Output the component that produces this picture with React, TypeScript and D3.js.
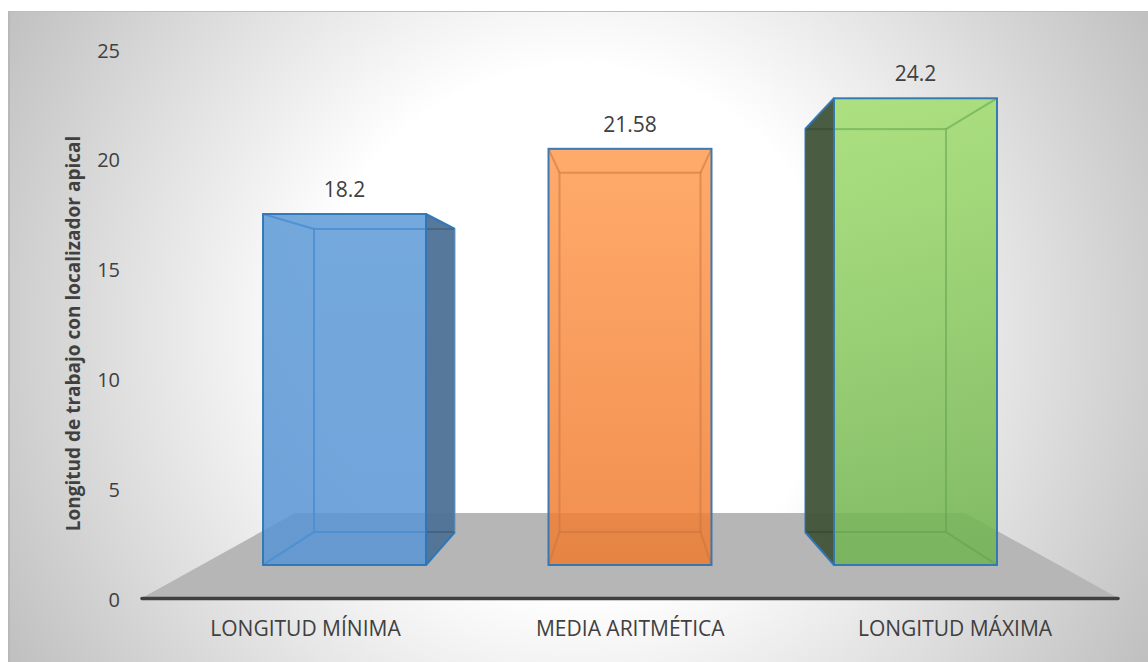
import React from "react";
import * as d3 from "d3";

const categories = ["LONGITUD MÍNIMA", "MEDIA ARITMÉTICA", "LONGITUD MÁXIMA"];
const values = [18.2, 21.58, 24.2];
const valueLabels = ["18.2", "21.58", "24.2"];
const yTicks = [0, 5, 10, 15, 20, 25];
const yTitle = "Longitud de trabajo con localizador apical";
const topColors = ["#5c9ad7", "#ff9c51", "#a0dd6d"];
const bottomColors = ["#5894d4", "#ef7b30", "#70b34f"];
const edgeColors = ["#4a8ed0", "#c8743e", "#5fa24f"];
const edgeOpacities = [0.85, 0.55, 0.55];
const sideColors = ["#4f7397", "", "#43563a"];

const W = 1148;
const H = 662;
const FONT = "'Open Sans', 'Noto Sans', sans-serif";

// Tick positions, plus the near and far planes of the 3D box projection
const axisY = d3.scaleLinear().domain([0, 25]).range([599, 50]);
const frontY = d3.scaleLinear().domain([0, 18.2]).range([565, 214]);
const backY = d3.scaleLinear().domain([0, 18.2]).range([532, 229]);
const frontX = d3.scalePoint<string>().domain(categories).range([344.5, 915.5]);
const backX = d3.scalePoint<string>().domain(categories).range([384.5, 875.5]);
const labelX = d3.scalePoint<string>().domain(categories).range([305.5, 955]);
const FRONT_W = 163;
const BACK_W = 141;
const FLOOR_BACK_Y = 513;

const poly = (pts: [number, number][]) => d3.line()(pts) + "Z";

export default function App() {
  return (
    <svg width={W} height={H} style={{ position: "absolute", left: 0, top: 0 }} fontFamily={FONT}>
      <defs>
        <radialGradient id="bg" gradientUnits="userSpaceOnUse" cx={578} cy={330} r={656}>
          <stop offset="0.4" stopColor="#ffffff" />
          <stop offset="1" stopColor="#c0c0c0" />
        </radialGradient>
        {categories.map((c, i) => (
          <linearGradient key={c} id={`front${i}`} x1="0" y1="0" x2="0" y2="1">
            <stop offset="0" stopColor={topColors[i]} />
            <stop offset="1" stopColor={bottomColors[i]} />
          </linearGradient>
        ))}
      </defs>
      <rect x={8} y={11} width={W - 8} height={H - 11} fill="url(#bg)" />
      <line x1={8} x2={W} y1={11.5} y2={11.5} stroke="#bdbdbd" />
      <line x1={9} x2={9} y1={11} y2={H} stroke="#b8b8b8" strokeWidth={2} />

      {/* floor of the 3D plot */}
      <path
        d={poly([[142, 598], [1118, 598], [965, FLOOR_BACK_Y], [295, FLOOR_BACK_Y]])}
        fill="#b6b6b6"
      />

      {categories.map((c, i) => {
        const v = values[i];
        const fx = frontX(c)!;
        const bx = backX(c)!;
        const fl = fx - FRONT_W / 2, fr = fx + FRONT_W / 2;
        const bl = bx - BACK_W / 2, br = bx + BACK_W / 2;
        const ft = frontY(v), fb = frontY(0);
        const bt = backY(v), bb = backY(0);
        const showRight = br > fr;
        const showLeft = bl < fl;
        return (
          <g key={c}>
            <clipPath id={`faceClip${i}`}>
              <rect x={fl} y={ft} width={fr - fl} height={fb - ft} />
            </clipPath>
            {showRight && (
              <path d={poly([[fr, ft], [br, bt], [br, bb], [fr, fb]])} fill={sideColors[i]} fillOpacity={0.96} />
            )}
            {showLeft && (
              <path d={poly([[fl, ft], [bl, bt], [bl, bb], [fl, fb]])} fill={sideColors[i]} fillOpacity={0.96} />
            )}
            {/* far edges crossing the dark side face */}
            {(showRight || showLeft) && (
              <g stroke="#000" strokeOpacity={0.15} strokeWidth={2}>
                <line x1={showRight ? fr : bl} x2={showRight ? br : fl} y1={bt} y2={bt} />
                <line x1={showRight ? fr : bl} x2={showRight ? br : fl} y1={bb} y2={bb} />
              </g>
            )}
            <rect x={fl} y={ft} width={fr - fl} height={fb - ft} fill={`url(#front${i})`} fillOpacity={0.85} />
            {/* inner box edges seen through the translucent front */}
            <g
              stroke={edgeColors[i]}
              strokeWidth={2}
              fill="none"
              strokeOpacity={edgeOpacities[i]}
              clipPath={`url(#faceClip${i})`}
            >
              <rect x={bl} y={bt} width={br - bl} height={bb - bt} />
              <line x1={fl} y1={ft} x2={bl} y2={bt} />
              <line x1={fr} y1={ft} x2={br} y2={bt} />
              <line x1={fl} y1={fb} x2={bl} y2={bb} />
              <line x1={fr} y1={fb} x2={br} y2={bb} />
            </g>
            {/* silhouette outline */}
            <g stroke="#2e75b6" strokeWidth={2} fill="none" strokeOpacity={0.95}>
              <rect x={fl} y={ft} width={fr - fl} height={fb - ft} />
              {showRight && <path d={d3.line()([[fr, ft], [br, bt]])!} />}
              {showRight && <path d={d3.line()([[fr, fb], [br, bb]])!} />}
              {showRight && <line x1={br} y1={bt} x2={br} y2={bb} stroke="#5b9bd5" strokeWidth={1} />}
              {showLeft && <path d={d3.line()([[fl, ft], [bl, bt]])!} />}
              {showLeft && <path d={d3.line()([[fl, fb], [bl, bb]])!} />}
              {showLeft && <line x1={bl} y1={bt} x2={bl} y2={bb} strokeWidth={1} />}
            </g>
            <text x={fx} y={ft - 17} textAnchor="middle" fontSize={21} fill="#404040">
              {valueLabels[i]}
            </text>
            <text x={labelX(c)} y={636} textAnchor="middle" fontSize={21} fill="#404040">
              {c}
            </text>
          </g>
        );
      })}

      {/* value axis */}
      <line x1={142} x2={1118} y1={598.5} y2={598.5} stroke="#404040" strokeWidth={3.5} strokeLinecap="round" />
      {yTicks.map((t) => (
        <text key={t} x={120} y={axisY(t) + 7.5} textAnchor="end" fontSize={20} fill="#404040">
          {t}
        </text>
      ))}
      <text
        transform={`translate(80,333.5) rotate(-90)`}
        textAnchor="middle"
        fontSize={19}
        fontWeight={700}
        fill="#404040"
      >
        {yTitle}
      </text>
    </svg>
  );
}
